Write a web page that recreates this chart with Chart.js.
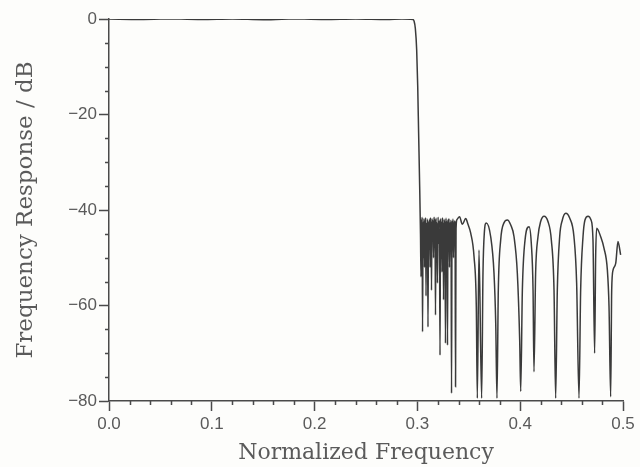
<!DOCTYPE html>
<html>
<head>
<meta charset="utf-8">
<title>Frequency Response</title>
<script src="https://cdn.jsdelivr.net/npm/chart.js@4.4.1/dist/chart.umd.min.js"></script>
<style>
  html, body { margin: 0; padding: 0; background: #fdfdfb; }
  #wrap { width: 640px; height: 467px; }
</style>
</head>
<body>
<div id="wrap"><canvas id="respChart" width="640" height="467"></canvas></div>
<script>
// --- Data ---
const passFreq = [0.000, 0.030, 0.060, 0.090, 0.120, 0.150, 0.180, 0.210, 0.240, 0.270, 0.285, 0.2955];
const passDb   = [0.0, -0.1, 0.05, -0.1, 0.0, -0.15, 0.05, -0.1, 0.0, -0.1, 0.0, -0.1];

// steep edge
const edgeFreq = [0.2967, 0.2980, 0.2993, 0.3003, 0.3012, 0.3022, 0.3030];
const edgeDb   = [-0.4, -2.0, -6.5, -14, -24, -35, -45];

// dense ripple just past the edge
const denseFreq = [
  0.3035, 0.3039, 0.3042, 0.3046, 0.3050, 0.3055, 0.3059, 0.3064, 0.3069, 0.3072,
  0.3076, 0.3080, 0.3084, 0.3088, 0.3093, 0.3098, 0.3103, 0.3108, 0.3113, 0.3118,
  0.3123, 0.3126, 0.3130, 0.3134, 0.3137, 0.3142, 0.3147, 0.3152, 0.3157, 0.3162,
  0.3166, 0.3171, 0.3176, 0.3181, 0.3186, 0.3190, 0.3195, 0.3201, 0.3208, 0.3214,
  0.3220, 0.3225, 0.3230, 0.3235, 0.3239, 0.3243, 0.3247, 0.3251, 0.3254, 0.3259,
  0.3264, 0.3268, 0.3273, 0.3278, 0.3283, 0.3288, 0.3293, 0.3297, 0.3302, 0.3307,
  0.3312, 0.3317, 0.3322, 0.3327, 0.3332, 0.3337, 0.3341, 0.3346, 0.3351, 0.3356,
  0.3361, 0.3366, 0.3371, 0.3376
];
const denseDb = [
  -54, -42.0, -48, -41.5, -65.5, -42.5, -50, -41.8, -52, -42.3,
  -47, -41.6, -58, -42.8, -49, -41.9, -64.5, -42.4, -48, -42.0,
  -52, -41.6, -47, -42.5, -56.8, -41.8, -46, -42.2, -50, -41.5,
  -45, -42.0, -62, -41.7, -48, -42.6, -55.3, -41.5, -47, -42.2,
  -70.4, -41.8, -50, -42.5, -53, -41.6, -47, -42.8, -58.8, -41.9,
  -48, -42.3, -67.9, -41.7, -49, -42.4, -68.3, -42.0, -47, -41.8,
  -52, -42.6, -48, -42.1, -78.4, -42.4, -46, -41.9, -50, -42.5,
  -46, -42.2, -77, -44
];

// wider sidelobes towards Nyquist
const lobeFreq = [
  0.3385, 0.3410, 0.3437, 0.3470, 0.3492, 0.3518, 0.3551, 0.3573, 0.3583, 0.3599,
  0.3625, 0.3638, 0.3651, 0.3670, 0.3713, 0.3745, 0.3762, 0.3774, 0.3787, 0.3810,
  0.3842, 0.3875, 0.3907, 0.3940, 0.3972, 0.3995, 0.4005, 0.4021, 0.4047, 0.4086,
  0.4108, 0.4125, 0.4134, 0.4150, 0.4173, 0.4199, 0.4232, 0.4270, 0.4303, 0.4329,
  0.4345, 0.4361, 0.4384, 0.4410, 0.4443, 0.4481, 0.4523, 0.4549, 0.4572, 0.4588,
  0.4611, 0.4630, 0.4660, 0.4689, 0.4708, 0.4724, 0.4734, 0.4744, 0.4783, 0.4815,
  0.4848, 0.4864, 0.4880, 0.4890, 0.4903, 0.4929, 0.4951, 0.4977
];
const lobeDb = [
  -42.0, -41.4, -43.0, -41.8, -43.0, -44.8, -49.8, -60.2, -79.4, -48.4,
  -79.4, -53.2, -44.8, -42.7, -45.6, -53.2, -63.7, -79.4, -56.8, -46.3,
  -42.7, -42.1, -43.1, -45.6, -53.2, -67.2, -78.0, -56.8, -46.3, -43.5,
  -47.0, -56.8, -73.9, -53.2, -45.6, -42.4, -41.3, -42.4, -46.3, -56.8,
  -79.4, -56.8, -45.6, -42.1, -40.7, -41.7, -45.6, -55.3, -79.4, -56.8,
  -45.6, -42.1, -41.3, -42.1, -46.3, -70.0, -49.8, -43.8, -45.6, -48.0,
  -52.6, -60.2, -79.1, -56.8, -52.6, -51.2, -46.6, -49.4
];

// axis ticks
const xMajorTicks = [0.0, 0.1, 0.2, 0.3, 0.4, 0.5];
const xMinorTicks = [0.02, 0.04, 0.06, 0.08, 0.12, 0.14, 0.16, 0.18, 0.22, 0.24, 0.26, 0.28,
                     0.32, 0.34, 0.36, 0.38, 0.42, 0.44, 0.46, 0.48];
const yMajorTicks = [0, -20, -40, -60, -80];
const yMinorTicks = [-5, -10, -15, -25, -30, -35, -45, -50, -55, -65, -70, -75];

const INK = '#3a3a3a';
const AXIS_COLOR = '#4a4a4a';
const TEXT_COLOR = '#5a5a5a';

// --- Build points ---
const freq = [...passFreq, ...edgeFreq, ...denseFreq, ...lobeFreq];
const respDb = [...passDb, ...edgeDb, ...denseDb, ...lobeDb];
const points = freq.map((f, i) => ({ x: f, y: respDb[i] }));

// minor tick marks, drawn from the scales
const minorTicks = {
  id: 'minorTicks',
  afterDraw(chart) {
    const { ctx, scales: { x, y } } = chart;
    ctx.save();
    ctx.strokeStyle = AXIS_COLOR;
    ctx.lineWidth = 1.5;
    ctx.beginPath();
    xMinorTicks.forEach(v => {
      const px = Math.round(x.getPixelForValue(v)) + 0.5;
      ctx.moveTo(px, x.top);
      ctx.lineTo(px, x.top + 4);
    });
    yMinorTicks.forEach(v => {
      const py = Math.round(y.getPixelForValue(v)) + 0.5;
      ctx.moveTo(y.right, py);
      ctx.lineTo(y.right - 4, py);
    });
    ctx.stroke();
    ctx.restore();
  }
};

const fmtDb = v => (v === 0 ? '0' : '\u2212' + Math.abs(v));

new Chart(document.getElementById('respChart'), {
  type: 'line',
  data: {
    datasets: [{
      data: points,
      borderColor: INK,
      borderWidth: 1.5,
      pointRadius: 0,
      cubicInterpolationMode: 'monotone',
      fill: false
    }]
  },
  options: {
    responsive: false,
    animation: false,
    layout: { padding: { top: 19, right: 17, left: 0, bottom: 0 } },
    plugins: { legend: { display: false }, tooltip: { enabled: false } },
    scales: {
      x: {
        type: 'linear',
        min: 0, max: 0.5,
        afterBuildTicks: s => { s.ticks = xMajorTicks.map(v => ({ value: v })); },
        afterFit: s => { s.height = 66; },
        border: { display: true, color: AXIS_COLOR, width: 1.5 },
        grid: { drawOnChartArea: false, drawTicks: true, tickLength: 10, tickColor: AXIS_COLOR, tickWidth: 1.5 },
        ticks: {
          color: TEXT_COLOR, padding: 3,
          font: { family: 'Liberation Sans', size: 17 },
          callback: v => Number(v).toFixed(1)
        },
        title: {
          display: true, text: 'Normalized Frequency', color: TEXT_COLOR,
          font: { family: 'DejaVu Serif', size: 22 },
          padding: { top: 0, bottom: 1 }
        }
      },
      y: {
        min: -80, max: 0,
        afterBuildTicks: s => { s.ticks = yMajorTicks.map(v => ({ value: v })); },
        afterFit: s => { s.width = 109; },
        border: { display: true, color: AXIS_COLOR, width: 1.5 },
        grid: { drawOnChartArea: false, drawTicks: true, tickLength: 10, tickColor: AXIS_COLOR, tickWidth: 1.5 },
        ticks: {
          color: TEXT_COLOR, padding: 2,
          font: { family: 'Liberation Sans', size: 17 },
          callback: fmtDb
        },
        title: {
          display: true, text: 'Frequency Response / dB', color: TEXT_COLOR,
          font: { family: 'DejaVu Serif', size: 23 },
          padding: { top: 12, bottom: 0 }
        }
      }
    }
  },
  plugins: [minorTicks]
});
</script>
</body>
</html>
